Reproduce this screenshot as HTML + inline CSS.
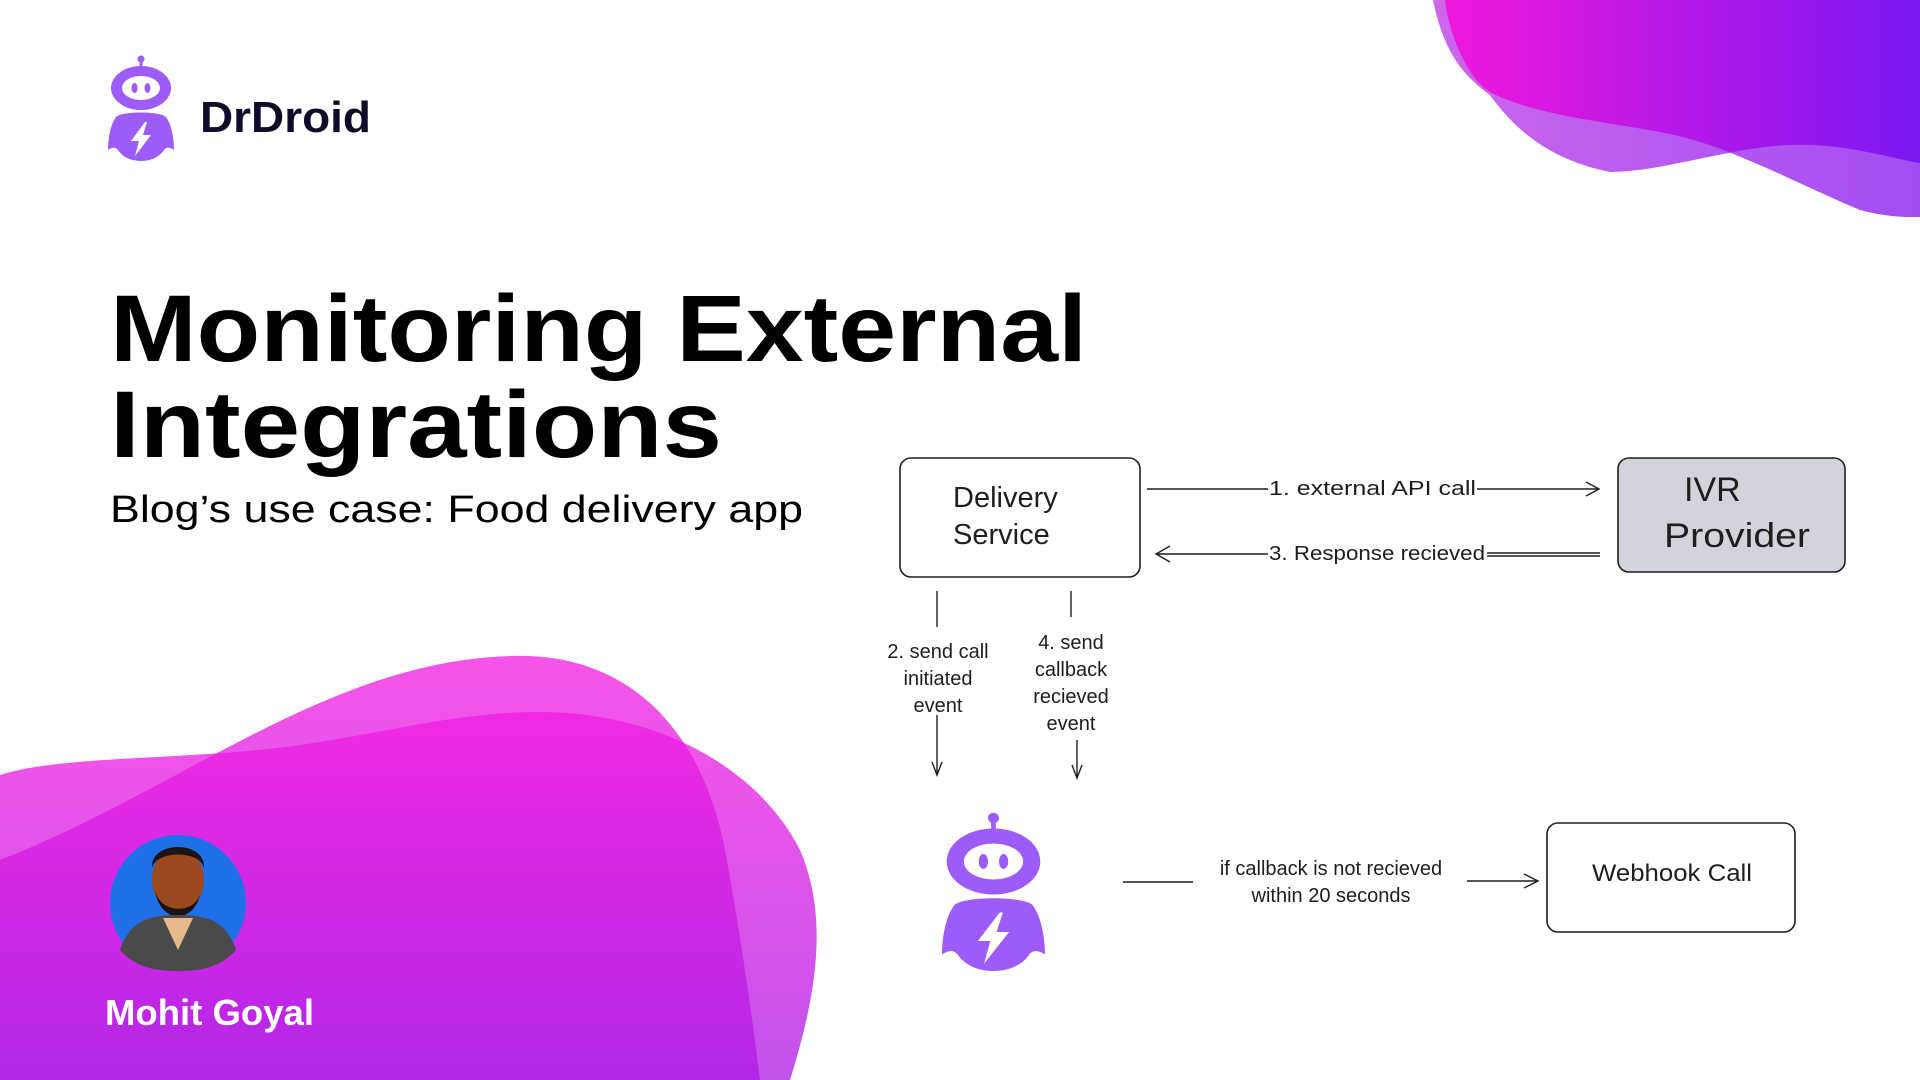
<!DOCTYPE html>
<html><head><meta charset="utf-8"><style>
html,body{margin:0;padding:0;background:#fff;}
svg{display:block;}
</style></head><body>
<svg width="1920" height="1080" viewBox="0 0 1920 1080" xmlns="http://www.w3.org/2000/svg">
<defs>
<linearGradient id="tr" x1="0" y1="0" x2="1" y2="0">
<stop offset="0" stop-color="#f018dc"/><stop offset="1" stop-color="#7a18f2"/>
</linearGradient>
<linearGradient id="tr2" x1="0" y1="0" x2="1" y2="0">
<stop offset="0" stop-color="#c040e8"/><stop offset="1" stop-color="#8a20f0"/>
</linearGradient>
<linearGradient id="bl" x1="0" y1="0" x2="0" y2="1">
<stop offset="0" stop-color="#f21ce0"/><stop offset="1" stop-color="#ad18e6"/>
</linearGradient>
<g id="robot">
<circle cx="33" cy="4" r="3.5" fill="#9d5cf7"/>
<rect x="31.5" y="6" width="3" height="7" fill="#9d5cf7"/>
<ellipse cx="33" cy="33" rx="30" ry="22" fill="#9d5cf7"/>
<ellipse cx="33" cy="33" rx="19" ry="12" fill="#fff"/>
<ellipse cx="26.5" cy="33" rx="3" ry="5" fill="#9d5cf7"/>
<ellipse cx="39.5" cy="33" rx="3" ry="5" fill="#9d5cf7"/>
<path d="M8,62 C14,56 52,56 58,62 C64,70 66,85 66,95 C62,92 58,92 56,95 C50,104 40,106 33,106 C26,106 16,104 10,95 C8,92 4,92 0,95 C0,85 2,70 8,62 Z" fill="#9d5cf7"/>
<polygon points="37,67 23,86 31,86 27,101 43,80 35,80 39,67" fill="#fff"/>
</g>
</defs>

<!-- top right blobs -->
<path d="M1433,0 C1445,60 1470,80 1490,95 C1515,130 1550,160 1610,172 C1660,172 1720,150 1787,145 C1840,142 1890,158 1920,163 L1920,0 Z" fill="url(#tr2)" opacity="0.8"/>
<path d="M1445,0 C1450,40 1470,80 1490,92 C1540,118 1620,122 1683,137 C1740,152 1800,185 1860,210 C1890,218 1910,217 1920,217 L1920,0 Z" fill="url(#tr2)" opacity="0.8"/>
<path d="M1445,0 C1450,40 1470,80 1490,92 C1540,118 1620,122 1683,137 C1705,143 1720,148 1730,152 C1760,147 1780,145 1787,145 C1840,142 1890,158 1920,163 L1920,0 Z" fill="url(#tr)"/>

<!-- bottom left blobs -->
<path d="M0,860 C180,790 330,660 512,656 C620,652 700,720 725,850 C745,960 755,1040 760,1080 L0,1080 Z" fill="url(#bl)" opacity="0.75"/>
<path d="M0,775 C60,755 200,760 300,745 C400,730 460,712 540,712 C660,712 760,770 800,850 C830,920 815,1000 790,1080 L0,1080 Z" fill="url(#bl)" opacity="0.75"/>

<!-- avatar -->
<circle cx="178" cy="903" r="68" fill="#1f6fe8"/>
<ellipse cx="178" cy="880" rx="26" ry="32" fill="#9a4a1e"/>
<path d="M152,868 C150,840 206,840 204,868 C200,850 156,850 152,868 Z" fill="#1b1410"/>
<path d="M155,890 C160,925 196,925 201,890 C198,915 160,915 155,890 Z" fill="#1b1410"/>
<path d="M120,950 C130,920 150,915 178,915 C206,915 226,920 236,950 C220,968 200,971 178,971 C156,971 136,968 120,950 Z" fill="#4a4a4a"/>
<path d="M163,918 L178,950 L193,918 Z" fill="#e6b98c"/>
<text x="105" y="1025" font-family="Liberation Sans, sans-serif" font-weight="bold" font-size="36" fill="#fff" textLength="209" lengthAdjust="spacingAndGlyphs">Mohit Goyal</text>

<!-- logo -->
<use href="#robot" transform="translate(108,55)"/>
<text x="200" y="132" font-family="Liberation Sans, sans-serif" font-weight="bold" font-size="44" fill="#0f0c29" textLength="171" lengthAdjust="spacingAndGlyphs">DrDroid</text>

<!-- title -->
<text x="110" y="361" font-family="Liberation Sans, sans-serif" font-weight="bold" font-size="95" fill="#000" textLength="977" lengthAdjust="spacingAndGlyphs">Monitoring External</text>
<text x="110" y="457" font-family="Liberation Sans, sans-serif" font-weight="bold" font-size="95" fill="#000" textLength="612" lengthAdjust="spacingAndGlyphs">Integrations</text>
<text x="110" y="522" font-family="Liberation Sans, sans-serif" font-size="38" fill="#000" textLength="693" lengthAdjust="spacingAndGlyphs">Blog’s use case: Food delivery app</text>

<!-- diagram -->
<g font-family="Liberation Sans, sans-serif" fill="#1e1e1e">
<rect x="900" y="458" width="240" height="119" rx="11" fill="#fff" stroke="#1e1e1e" stroke-width="1.6"/>
<text x="953" y="507" font-size="29">Delivery</text>
<text x="953" y="544" font-size="29">Service</text>

<rect x="1618" y="458" width="227" height="114" rx="11" fill="#d1d5db" stroke="#1e1e1e" stroke-width="1.6"/>
<text x="1684" y="501" font-size="34">IVR</text>
<text x="1664" y="547" font-size="34" textLength="146" lengthAdjust="spacingAndGlyphs">Provider</text>

<rect x="1547" y="823" width="248" height="109" rx="11" fill="#fff" stroke="#1e1e1e" stroke-width="1.6"/>
<text x="1592" y="881" font-size="24" textLength="160" lengthAdjust="spacingAndGlyphs">Webhook Call</text>

<g stroke="#1e1e1e" stroke-width="1.4" fill="none">
<line x1="1147" y1="489" x2="1268" y2="489"/>
<line x1="1477" y1="489" x2="1599" y2="489"/>
<polyline points="1586,482 1599,489 1586,496"/>
<line x1="1156" y1="554" x2="1268" y2="554"/>
<line x1="1487" y1="553" x2="1600" y2="553"/>
<line x1="1487" y1="556" x2="1600" y2="556"/>
<polyline points="1170,546 1156,554 1170,562"/>
<line x1="937" y1="591" x2="937" y2="627"/>
<line x1="937" y1="715" x2="937" y2="775"/>
<polyline points="932,762 937,775 942,762"/>
<line x1="1071" y1="591" x2="1071" y2="617"/>
<line x1="1077" y1="740" x2="1077" y2="778"/>
<polyline points="1072,765 1077,778 1082,765"/>
<line x1="1123" y1="882" x2="1193" y2="882"/>
<line x1="1467" y1="881" x2="1538" y2="881"/>
<polyline points="1524,874 1538,881 1524,888"/>
</g>
<text x="1269" y="495" font-size="20" textLength="207" lengthAdjust="spacingAndGlyphs">1. external API call</text>
<text x="1269" y="560" font-size="20" textLength="216" lengthAdjust="spacingAndGlyphs">3. Response recieved</text>
<g font-size="20" text-anchor="middle">
<text x="938" y="658">2. send call</text>
<text x="938" y="685">initiated</text>
<text x="938" y="712">event</text>
<text x="1071" y="649">4. send</text>
<text x="1071" y="676">callback</text>
<text x="1071" y="703">recieved</text>
<text x="1071" y="730">event</text>
<text x="1331" y="875">if callback is not recieved</text>
<text x="1331" y="902">within 20 seconds</text>
</g>
</g>
<use href="#robot" transform="translate(942,812) scale(1.56,1.5)"/>
</svg>
</body></html>
